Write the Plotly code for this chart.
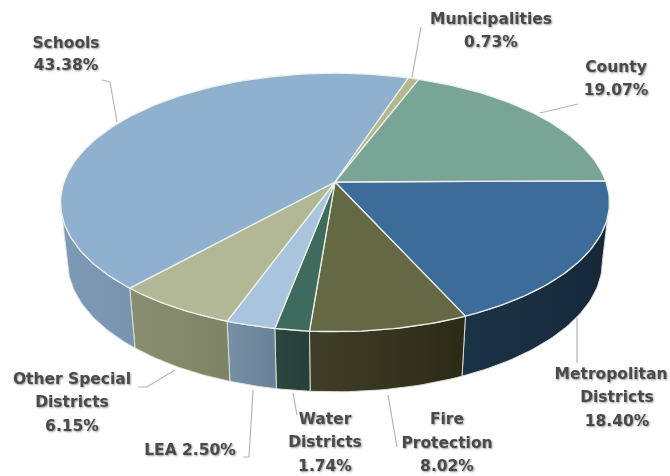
import math
import plotly.graph_objects as go

# ---- data (clockwise from 3 o'clock) ----
categories = ["Metropolitan Districts", "Fire Protection", "Water Districts", "LEA",
              "Other Special Districts", "Schools", "Municipalities", "County"]
shares = [18.40, 8.02, 1.74, 2.50, 6.15, 43.38, 0.73, 19.07]

# ---- style ----
top_colors = ["#3c6c99", "#646843", "#3f6a5e", "#a9c5dd", "#b2b795", "#8fb1cf", "#b4b88c", "#78a596"]
side_left = ["#1b3347", "#3f3f29", "#2b473f", "#7790a6", "#8a8e70", "#7d9ab6", "#8a8e70", "#5a7d72"]
side_right = ["#152838", "#2a2a17", "#263f38", "#6a8196", "#7f8366", "#7893ad", "#8a8e70", "#5a7d72"]

# label lines: text and centre position in page pixels
label_text = ["Schools", "43.38%", "Municipalities", "0.73%", "County", "19.07%",
              "Metropolitan", "Districts", "18.40%", "Fire", "Protection", "8.02%",
              "Water", "Districts", "1.74%", "LEA 2.50%", "Other Special", "Districts", "6.15%"]
label_x = [66, 66, 491, 491, 616, 616, 611, 617, 617, 447, 447, 447, 325, 325, 325, 190, 72, 72, 72]
label_y = [44, 66, 20, 43, 68, 91, 375, 398, 422, 420, 444, 467, 420, 443, 467, 451, 380, 403, 427]

leaders = [
    [(117, 122), (110, 82), (102, 80)],
    [(412, 77), (421, 27)],
    [(540, 113), (578, 104)],
    [(577, 318), (577, 363)],
    [(388, 395), (397, 447)],
    [(293, 393), (297, 415)],
    [(253, 390), (249, 457), (243, 457)],
    [(175, 370), (147, 387), (138, 387)],
]

# ---- perspective model of the pie disc ----
CX, CY, A, B, K = 335, 182, 271, 126, 0.158
BY, BA, BB = 241, 264, 127
ROT = -0.010


def proj(theta, cy=CY, a=A, b=B):
    u, v = math.cos(theta), math.sin(theta)
    d = 1 - K * v
    return CX + a * u / d, cy + b * v / d


def arc(t0, t1, **kw):
    n = max(2, int(abs(t1 - t0) / 0.02))
    return [proj(t0 + (t1 - t0) * i / n, **kw) for i in range(n + 1)]


total = sum(shares)
edges = [ROT]
for s in shares:
    edges.append(edges[-1] + s / total * 2 * math.pi)

fig = go.Figure()
vis0, vis1 = math.asin(K), math.pi - math.asin(K)

# side walls
for i in range(len(shares)):
    t0, t1 = max(edges[i], vis0), min(edges[i + 1], vis1)
    if t1 <= t0:
        continue
    pts = arc(t0, t1) + arc(t1, t0, cy=BY, a=BA, b=BB)
    pts.append(pts[0])
    fig.add_trace(go.Scatter(
        x=[p[0] for p in pts], y=[p[1] for p in pts], mode="lines", fill="toself",
        fillgradient=dict(type="horizontal",
                          colorscale=[[0, side_left[i]], [1, side_right[i]]]),
        line=dict(color="rgba(225,228,220,0.9)", width=1), hoverinfo="skip", showlegend=False))

# top face
for i in range(len(shares)):
    pts = [(CX, CY)] + arc(edges[i], edges[i + 1]) + [(CX, CY)]
    fig.add_trace(go.Scatter(
        x=[p[0] for p in pts], y=[p[1] for p in pts], mode="lines", fill="toself",
        fillcolor=top_colors[i], line=dict(color="#eef0ea", width=1.3),
        name=categories[i], hoverinfo="name", showlegend=False))

# leader lines
for seg in leaders:
    fig.add_trace(go.Scatter(x=[p[0] for p in seg], y=[p[1] for p in seg], mode="lines",
                             line=dict(color="#b5b5b5", width=1.2), hoverinfo="skip",
                             showlegend=False))

# labels
fig.add_trace(go.Scatter(
    x=label_x, y=label_y, text=label_text, mode="text", textposition="middle center",
    textfont=dict(family="DejaVu Sans", size=15.5, weight=700, color="#4a4a4a",
                  shadow="1px 1px 2px #999999"),
    hoverinfo="skip", showlegend=False, cliponaxis=True))

fig.update_layout(
    width=670, height=476, margin=dict(l=0, r=0, t=0, b=0),
    paper_bgcolor="white", plot_bgcolor="white",
    xaxis=dict(range=[0, 670], visible=False, fixedrange=True),
    yaxis=dict(range=[476, 0], visible=False, fixedrange=True),
)
fig.write_html("out.html", config={"displayModeBar": False},
               post_script="document.body.style.margin='0';"
                           "document.querySelector('.plotly-graph-div').style.filter='blur(0.7px)';")
